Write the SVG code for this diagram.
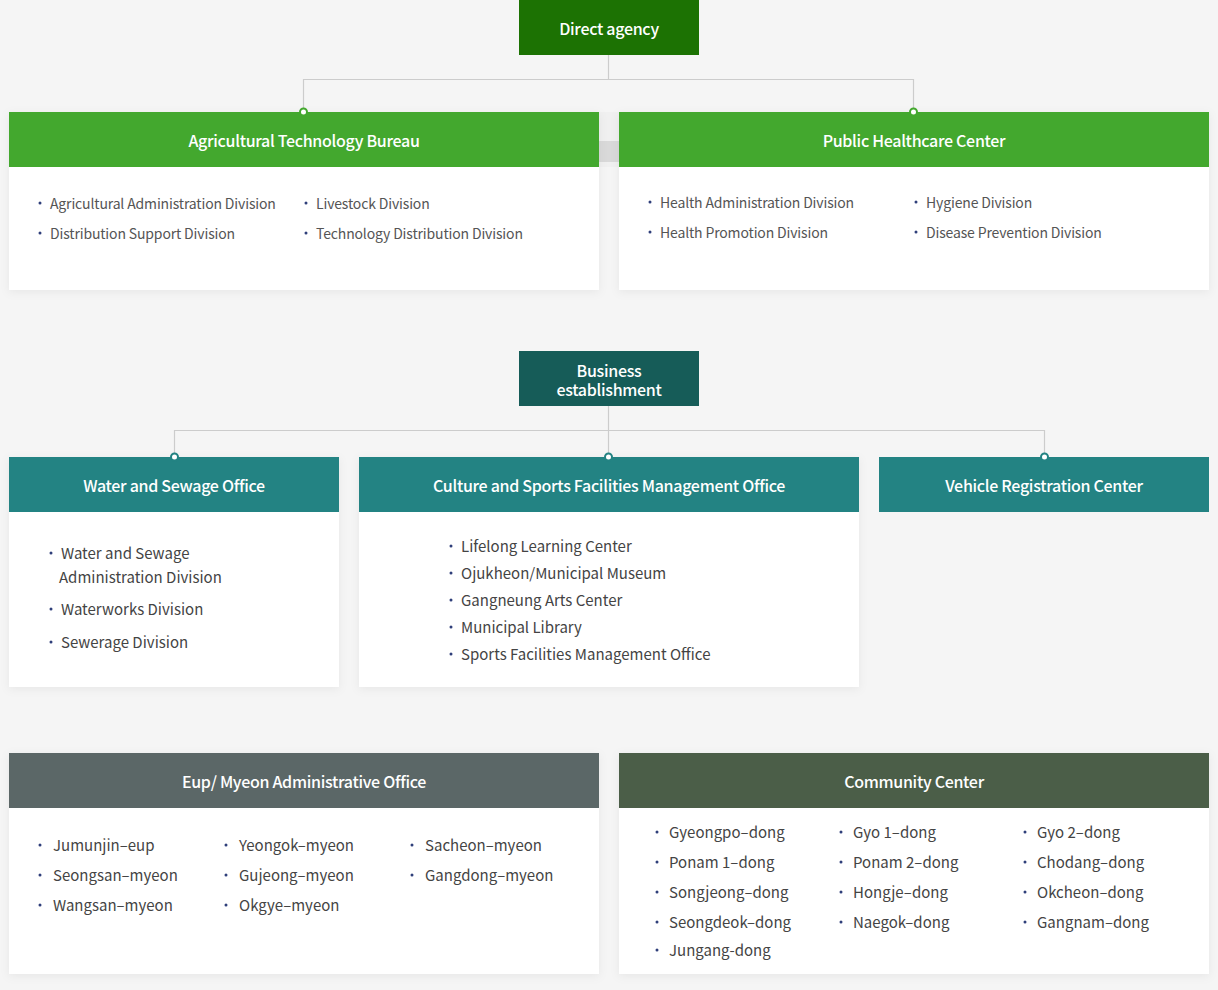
<svg xmlns="http://www.w3.org/2000/svg" width="1218" height="990" viewBox="0 0 1218 990">
<defs>
<filter id="sh" x="-5%" y="-10%" width="110%" height="125%">
<feDropShadow dx="0" dy="2" stdDeviation="5" flood-color="#000" flood-opacity="0.06"/>
</filter>
<style>
.hd{font-family:"Noto Sans CJK KR","Noto Sans",sans-serif;font-size:16px;font-weight:500;fill:#fff;text-anchor:middle;dominant-baseline:central;letter-spacing:-0.3px}
.it{font-family:"Noto Sans CJK KR","Noto Sans",sans-serif;font-size:14px;fill:#555;dominant-baseline:central;letter-spacing:-0.15px}
.it2{font-family:"Noto Sans CJK KR","Noto Sans",sans-serif;font-size:15px;fill:#444;dominant-baseline:central}
.bl{fill:#2f3f7a}
.body{fill:#fff;filter:url(#sh)}
.ln{stroke:#cccccc;stroke-width:1.2;fill:none}
.dg{fill:#fff;stroke:#43a82e;stroke-width:2}
.dt{fill:#fff;stroke:#238383;stroke-width:2}
</style>
</defs>
<rect width="1218" height="990" fill="#f5f5f5"/>

<g id="connectors">
<path class="ln" d="M608.5 55V79.5M303.5 112V79.5H913.5V112"/>
<path class="ln" d="M608.5 406V457M174.5 457V430.5H1044.5V457"/>
<rect x="599" y="112" width="20" height="55" fill="#f0f0f0"/>
<rect x="599" y="141" width="20" height="21" fill="#d9d9d9"/>
</g>

<g id="direct-agency">
<rect x="519" y="0" width="180" height="55" fill="#1c7203"/>
<text class="hd" x="609" y="28">Direct agency</text>
</g>

<g id="agri">
<rect class="body" x="9" y="112" width="590" height="178"/>
<rect x="9" y="112" width="590" height="55" fill="#43a82e"/>
<circle class="dg" cx="303.5" cy="112" r="3.5"/>
<text class="hd" x="304" y="140">Agricultural Technology Bureau</text>
<circle class="bl" cx="40" cy="203" r="1.5"/><text class="it" x="50" y="203">Agricultural Administration Division</text>
<circle class="bl" cx="40" cy="233" r="1.5"/><text class="it" x="50" y="233">Distribution Support Division</text>
<circle class="bl" cx="306" cy="203" r="1.5"/><text class="it" x="316" y="203">Livestock Division</text>
<circle class="bl" cx="306" cy="233" r="1.5"/><text class="it" x="316" y="233">Technology Distribution Division</text>
</g>

<g id="health">
<rect class="body" x="619" y="112" width="590" height="178"/>
<rect x="619" y="112" width="590" height="55" fill="#43a82e"/>
<circle class="dg" cx="913.5" cy="112" r="3.5"/>
<text class="hd" x="914" y="140">Public Healthcare Center</text>
<circle class="bl" cx="650" cy="202" r="1.5"/><text class="it" x="660" y="202">Health Administration Division</text>
<circle class="bl" cx="650" cy="232" r="1.5"/><text class="it" x="660" y="232">Health Promotion Division</text>
<circle class="bl" cx="916" cy="202" r="1.5"/><text class="it" x="926" y="202">Hygiene Division</text>
<circle class="bl" cx="916" cy="232" r="1.5"/><text class="it" x="926" y="232">Disease Prevention Division</text>
</g>

<g id="business">
<rect x="519" y="351" width="180" height="55" fill="#165c58"/>
<text class="hd"><tspan x="609" y="370">Business</tspan><tspan x="609" y="389">establishment</tspan></text>
</g>

<g id="water">
<rect class="body" x="9" y="457" width="330" height="230"/>
<rect x="9" y="457" width="330" height="55" fill="#238383"/>
<circle class="dt" cx="174.5" cy="457" r="3.5"/>
<text class="hd" x="174" y="485">Water and Sewage Office</text>
<circle class="bl" cx="51" cy="553" r="1.5"/><text class="it2" x="61" y="552">Water and Sewage</text>
<text class="it2" x="59" y="576">Administration Division</text>
<circle class="bl" cx="51" cy="609" r="1.5"/><text class="it2" x="61" y="608">Waterworks Division</text>
<circle class="bl" cx="51" cy="642" r="1.5"/><text class="it2" x="61" y="641">Sewerage Division</text>
</g>

<g id="culture">
<rect class="body" x="359" y="457" width="500" height="230"/>
<rect x="359" y="457" width="500" height="55" fill="#238383"/>
<circle class="dt" cx="608.5" cy="457" r="3.5"/>
<text class="hd" x="609" y="485">Culture and Sports Facilities Management Office</text>
<circle class="bl" cx="451" cy="546" r="1.5"/><text class="it2" x="461" y="545">Lifelong Learning Center</text>
<circle class="bl" cx="451" cy="573" r="1.5"/><text class="it2" x="461" y="572">Ojukheon/Municipal Museum</text>
<circle class="bl" cx="451" cy="600" r="1.5"/><text class="it2" x="461" y="599">Gangneung Arts Center</text>
<circle class="bl" cx="451" cy="627" r="1.5"/><text class="it2" x="461" y="626">Municipal Library</text>
<circle class="bl" cx="451" cy="654" r="1.5"/><text class="it2" x="461" y="653">Sports Facilities Management Office</text>
</g>

<g id="vehicle">
<rect x="879" y="457" width="330" height="55" fill="#238383"/>
<circle class="dt" cx="1044.5" cy="457" r="3.5"/>
<text class="hd" x="1044" y="485">Vehicle Registration Center</text>
</g>

<g id="eup">
<rect class="body" x="9" y="753" width="590" height="221"/>
<rect x="9" y="753" width="590" height="55" fill="#5b6767"/>
<text class="hd" x="304" y="781">Eup/ Myeon Administrative Office</text>
<circle class="bl" cx="40" cy="845" r="1.5"/><text class="it2" x="53" y="844">Jumunjin–eup</text>
<circle class="bl" cx="40" cy="875" r="1.5"/><text class="it2" x="53" y="874">Seongsan–myeon</text>
<circle class="bl" cx="40" cy="905" r="1.5"/><text class="it2" x="53" y="904">Wangsan–myeon</text>
<circle class="bl" cx="226" cy="845" r="1.5"/><text class="it2" x="239" y="844">Yeongok–myeon</text>
<circle class="bl" cx="226" cy="875" r="1.5"/><text class="it2" x="239" y="874">Gujeong–myeon</text>
<circle class="bl" cx="226" cy="905" r="1.5"/><text class="it2" x="239" y="904">Okgye–myeon</text>
<circle class="bl" cx="412" cy="845" r="1.5"/><text class="it2" x="425" y="844">Sacheon–myeon</text>
<circle class="bl" cx="412" cy="875" r="1.5"/><text class="it2" x="425" y="874">Gangdong–myeon</text>
</g>

<g id="community">
<rect class="body" x="619" y="753" width="590" height="221"/>
<rect x="619" y="753" width="590" height="55" fill="#4b5e48"/>
<text class="hd" x="914" y="781">Community Center</text>
<circle class="bl" cx="657" cy="832" r="1.5"/><text class="it2" x="669" y="831">Gyeongpo–dong</text>
<circle class="bl" cx="657" cy="862" r="1.5"/><text class="it2" x="669" y="861">Ponam 1–dong</text>
<circle class="bl" cx="657" cy="892" r="1.5"/><text class="it2" x="669" y="891">Songjeong–dong</text>
<circle class="bl" cx="657" cy="922" r="1.5"/><text class="it2" x="669" y="921">Seongdeok–dong</text>
<circle class="bl" cx="657" cy="950" r="1.5"/><text class="it2" x="669" y="949">Jungang-dong</text>
<circle class="bl" cx="841" cy="832" r="1.5"/><text class="it2" x="853" y="831">Gyo 1–dong</text>
<circle class="bl" cx="841" cy="862" r="1.5"/><text class="it2" x="853" y="861">Ponam 2–dong</text>
<circle class="bl" cx="841" cy="892" r="1.5"/><text class="it2" x="853" y="891">Hongje–dong</text>
<circle class="bl" cx="841" cy="922" r="1.5"/><text class="it2" x="853" y="921">Naegok–dong</text>
<circle class="bl" cx="1025" cy="832" r="1.5"/><text class="it2" x="1037" y="831">Gyo 2–dong</text>
<circle class="bl" cx="1025" cy="862" r="1.5"/><text class="it2" x="1037" y="861">Chodang–dong</text>
<circle class="bl" cx="1025" cy="892" r="1.5"/><text class="it2" x="1037" y="891">Okcheon–dong</text>
<circle class="bl" cx="1025" cy="922" r="1.5"/><text class="it2" x="1037" y="921">Gangnam–dong</text>
</g>
</svg>
